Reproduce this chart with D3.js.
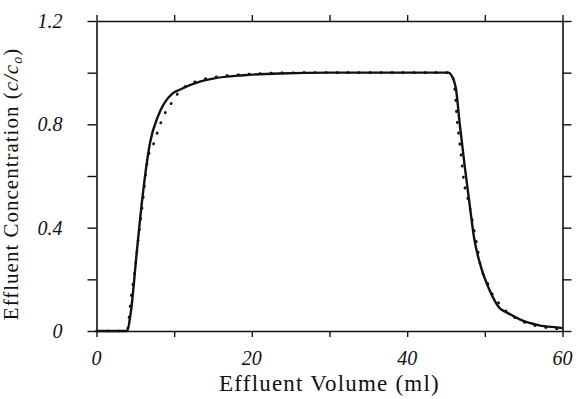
<!DOCTYPE html>
<html>
<head>
<meta charset="utf-8">
<script src="https://cdn.jsdelivr.net/npm/d3@7"></script>
<style>
  body { margin: 0; background: #fff; }
  text { font-family: "Liberation Serif", "DejaVu Serif", serif; fill: #111; }
</style>
</head>
<body>
<div id="chart-area"></div>
<script>
const W = 578;
const H = 399;
const margin = { top: 21, right: 15.5, bottom: 68, left: 96.5 };
const width = W - margin.left - margin.right;
const height = H - margin.top - margin.bottom;

// model curve (solid)
const modelVolume = [0, 3.9, 4.45, 5.2, 5.74, 6.9, 7.9, 9.8, 10.7, 13.3, 15, 18.9, 23.6, 30, 40, 45.3, 45.7, 46.3, 46.75, 47.4, 48, 48.6, 49.5, 50.6, 51.9, 52.8, 54.5, 57, 59.8, 60];
const modelConc = [0, 0, 0.08, 0.31, 0.47, 0.73, 0.83, 0.92, 0.934, 0.965, 0.977, 0.99, 0.997, 1, 1, 1, 0.99, 0.934, 0.806, 0.64, 0.5, 0.364, 0.248, 0.159, 0.089, 0.072, 0.045, 0.022, 0.012, 0.011];

// experimental curve (dotted)
const expVolume = [0, 3.9, 4.45, 5.04, 5.47, 5.8, 6.66, 7.2, 7.7, 8.2, 8.8, 9.7, 10.7, 12.5, 15, 20, 26, 45.8, 46, 46.2, 46.4, 46.7, 47, 47.3, 47.95, 48.5, 49, 49.5, 50.2, 50.8, 51.5, 52.8, 55, 57.5, 60];
const expConc = [0, 0, 0.13, 0.26, 0.38, 0.46, 0.675, 0.713, 0.756, 0.8, 0.842, 0.885, 0.928, 0.962, 0.982, 0.995, 1, 1, 0.96, 0.915, 0.826, 0.744, 0.663, 0.58, 0.496, 0.41, 0.33, 0.244, 0.198, 0.152, 0.12, 0.075, 0.035, 0.015, 0.008];

const xMajor = [0, 20, 40, 60];
const xMinor = [0, 10, 20, 30, 40, 50, 60];
const yMajor = [0, 0.4, 0.8, 1.2];
const yMinor = [0, 0.2, 0.4, 0.6, 0.8, 1.0, 1.2];

const svg = d3.select("#chart-area")
    .append("svg")
    .attr("width", W)
    .attr("height", H);

svg.append("rect").attr("width", W).attr("height", H).attr("fill", "#fff");

const g = svg.append("g")
    .attr("transform", `translate(${margin.left}, ${margin.top})`);

const xScale = d3.scaleLinear().domain([0, 60]).range([0, width]);
const yScale = d3.scaleLinear().domain([0, 1.2]).range([height, 0]);

//Axes: ticks only, labels added by hand (italic, "0" without decimals)
const tickFmt = (d) => (d === 0 ? "0" : d3.format(".1f")(d));

const styleAxis = (sel) => {
    sel.select(".domain").attr("stroke", "#111").attr("stroke-width", 1.6);
    sel.selectAll(".tick line").attr("stroke", "#111").attr("stroke-width", 1.4);
};

g.append("g")
    .attr("transform", `translate(0, ${height})`)
    .call(d3.axisBottom(xScale).tickValues(xMinor).tickSize(6).tickSizeOuter(0).tickFormat(""))
    .call(styleAxis);
g.append("g")
    .call(d3.axisTop(xScale).tickValues(xMinor).tickSize(6).tickSizeOuter(0).tickFormat(""))
    .call(styleAxis);
g.append("g")
    .call(d3.axisLeft(yScale).tickValues(yMinor).tickSize(9).tickSizeOuter(0).tickFormat(""))
    .call(styleAxis);
g.append("g")
    .attr("transform", `translate(${width}, 0)`)
    .call(d3.axisRight(yScale).tickValues(yMinor).tickSize(9).tickSizeOuter(0).tickFormat(""))
    .call(styleAxis);

//Tick labels
g.selectAll(".x-tick-label")
    .data(xMajor)
    .enter()
    .append("text")
    .attr("class", "x-tick-label")
    .attr("x", (d) => xScale(d))
    .attr("y", height + 34)
    .attr("text-anchor", "middle")
    .attr("font-size", "20px")
    .attr("font-style", "italic")
    .text((d) => d);

g.selectAll(".y-tick-label")
    .data(yMajor)
    .enter()
    .append("text")
    .attr("class", "y-tick-label")
    .attr("x", -34)
    .attr("y", (d) => yScale(d) + 7)
    .attr("text-anchor", "end")
    .attr("font-size", "20px")
    .attr("font-style", "italic")
    .text(tickFmt);

//Curves
const line = d3.line()
    .x((d) => xScale(d[0]))
    .y((d) => yScale(d[1]))
    .curve(d3.curveMonotoneX);

g.append("path")
    .datum(d3.zip(expVolume, expConc))
    .attr("fill", "none")
    .attr("stroke", "#111")
    .attr("stroke-width", 2.6)
    .attr("stroke-linecap", "round")
    .attr("stroke-dasharray", "0.5 10.5")
    .attr("d", line);

g.append("path")
    .datum(d3.zip(modelVolume, modelConc))
    .attr("fill", "none")
    .attr("stroke", "#111")
    .attr("stroke-width", 2.4)
    .attr("d", line);

//Labels
g.append("text")
    .attr("x", width / 2)
    .attr("y", height + 60)
    .attr("text-anchor", "middle")
    .attr("font-size", "23px")
    .attr("letter-spacing", "1.2px")
    .text("Effluent Volume (ml)");

const yLabel = g.append("text")
    .attr("transform", `translate(${-79}, ${height / 2 + 8}) rotate(-90)`)
    .attr("text-anchor", "middle")
    .attr("font-size", "21px")
    .attr("letter-spacing", "1px");
yLabel.append("tspan").text("Effluent Concentration (");
yLabel.append("tspan").attr("font-style", "italic").text("c/c");
yLabel.append("tspan").attr("font-style", "italic").attr("font-size", "14px").attr("dy", 4).text("o");
yLabel.append("tspan").attr("dy", -4).text(")");
</script>
</body>
</html>
